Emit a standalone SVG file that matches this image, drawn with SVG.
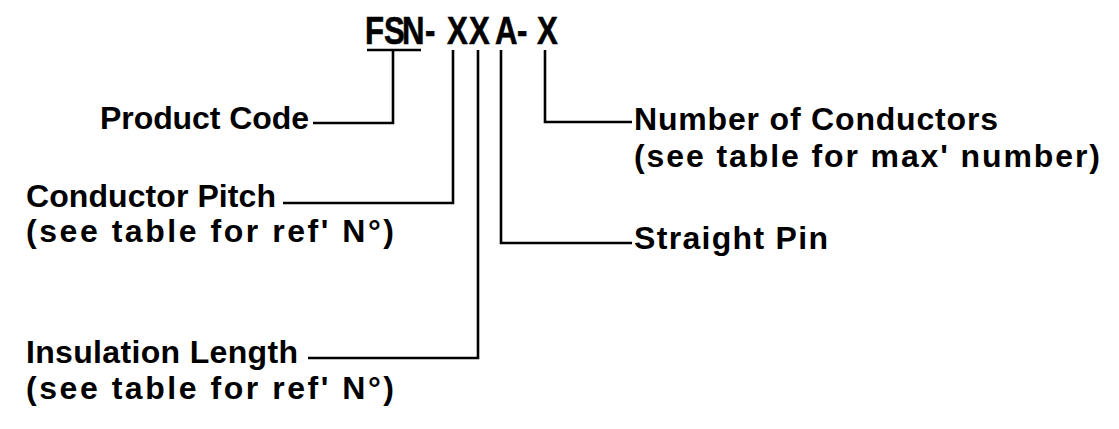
<svg xmlns="http://www.w3.org/2000/svg" width="1119" height="429" viewBox="0 0 1119 429">
<style>
.t{font-family:"Liberation Sans","DejaVu Sans",sans-serif;font-weight:bold;font-size:32px;fill:#000}
.c{fill:none;stroke:#000;stroke-width:2.6;stroke-linejoin:miter}
</style>
<rect width="1119" height="429" fill="#fff"/>
<g id="code">
<text class="t" style="font-size:38px;stroke:#000;stroke-width:0.6" transform="scale(0.82,1)" x="445.1 468.3 490.2 518.3 545.1 572 603.7 630.5 654.9" y="44">FSN-XXA-X</text>
</g>
<g id="connectors">
<path class="c" d="M367 50 H421"/>
<path class="c" d="M393 50 V123 H313"/>
<path class="c" d="M453 50 V203 H283"/>
<path class="c" d="M478 50 V358 H308"/>
<path class="c" d="M501 50 V243 H632"/>
<path class="c" d="M545 50 V122 H632"/>
</g>
<g id="product-code">
<text class="t" x="100" y="129" textLength="209" lengthAdjust="spacing">Product Code</text>
</g>
<g id="conductor-pitch">
<text class="t" x="26" y="207" textLength="250" lengthAdjust="spacing">Conductor Pitch</text>
<text class="t" x="26" y="242" textLength="368" lengthAdjust="spacing">(see table for ref' N°)</text>
</g>
<g id="insulation-length">
<text class="t" x="26" y="363" textLength="272" lengthAdjust="spacing">Insulation Length</text>
<text class="t" x="26" y="399" textLength="368" lengthAdjust="spacing">(see table for ref' N°)</text>
</g>
<g id="straight-pin">
<text class="t" x="634" y="249" textLength="194" lengthAdjust="spacing">Straight Pin</text>
</g>
<g id="number-of-conductors">
<text class="t" x="634" y="130" textLength="364" lengthAdjust="spacing">Number of Conductors</text>
<text class="t" x="634" y="167" textLength="466" lengthAdjust="spacing">(see table for max' number)</text>
</g>
</svg>
